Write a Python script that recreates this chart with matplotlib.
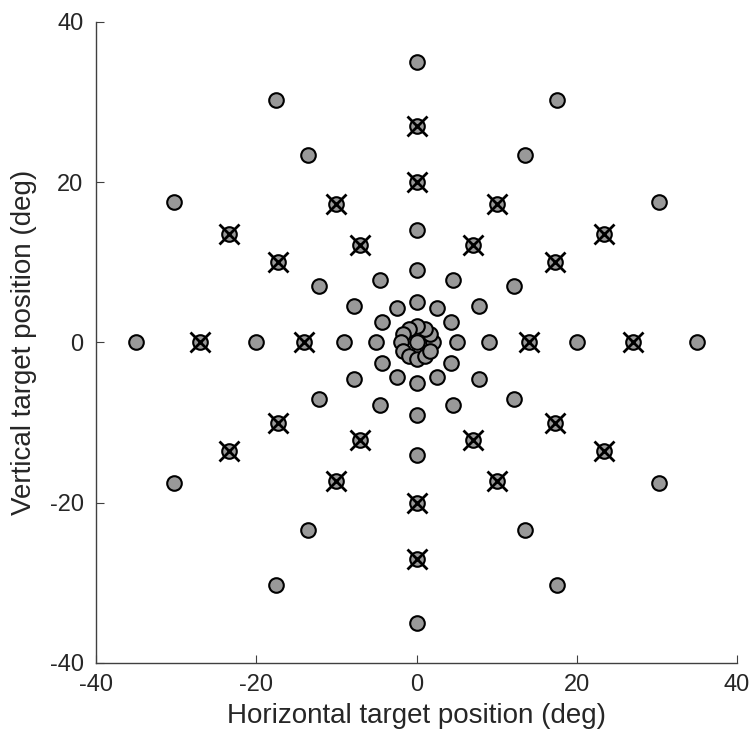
import numpy as np
import matplotlib.pyplot as plt

plt.rcParams['font.family'] = ['Liberation Sans', 'DejaVu Sans']
plt.rcParams['axes.unicode_minus'] = False

# target layout: 12 directions, 7 eccentricities, plus fixation at the center
angles = [0, 30, 60, 90, 120, 150, 180, 210, 240, 270, 300, 330]
radii = [2, 5, 9, 14, 20, 27, 35]
# eccentricities marked with an x, per direction
crossed = {
    0: [14, 27], 30: [20, 27], 60: [14, 20], 90: [20, 27],
    120: [14, 20], 150: [20, 27], 180: [14, 27], 210: [20, 27],
    240: [14, 20], 270: [20, 27], 300: [14, 20], 330: [20, 27],
}
ticks = [-40, -20, 0, 20, 40]

fig = plt.figure(figsize=(7.52, 7.33), dpi=100)
ax = fig.add_axes([0.1277, 0.0955, 0.8524, 0.8745])

xs, ys = [0.0], [0.0]
for r in radii:
    for a in angles:
        xs.append(r * np.cos(np.deg2rad(a)))
        ys.append(r * np.sin(np.deg2rad(a)))
ax.plot(xs, ys, 'o', ms=10.5, mfc='#999999', mec='black', mew=1.5, ls='none')

cx, cy = [], []
for a, rs in crossed.items():
    for r in rs:
        cx.append(r * np.cos(np.deg2rad(a)))
        cy.append(r * np.sin(np.deg2rad(a)))
ax.plot(cx, cy, 'x', ms=14, mec='black', mew=2, ls='none')

ax.set_xlim(-40, 40)
ax.set_ylim(-40, 40)
ax.set_xticks(ticks)
ax.set_yticks(ticks)
ax.spines['top'].set_visible(False)
ax.spines['right'].set_visible(False)
for s in ['left', 'bottom']:
    ax.spines[s].set_color('#404040')
    ax.spines[s].set_linewidth(1)
ax.tick_params(direction='in', length=6, colors='#404040', labelsize=17,
               labelcolor='#262626')
ax.tick_params(axis='x', pad=8)
ax.tick_params(axis='y', pad=9)
ax.set_xlabel('Horizontal target position (deg)', fontsize=20, color='#262626',
              labelpad=5)
ax.set_ylabel('Vertical target position (deg)', fontsize=20, color='#262626',
              labelpad=9)

fig.savefig('out.png', dpi=100)
